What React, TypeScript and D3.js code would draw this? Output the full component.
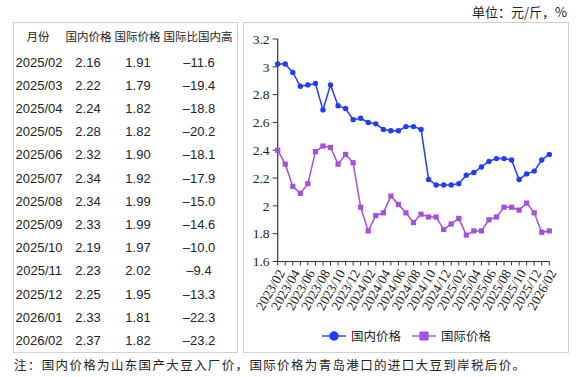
import React from "react";
import * as d3 from "d3";

const months = [
  "2023/02","2023/03","2023/04","2023/05","2023/06","2023/07","2023/08","2023/09","2023/10","2023/11","2023/12",
  "2024/01","2024/02","2024/03","2024/04","2024/05","2024/06","2024/07","2024/08","2024/09","2024/10","2024/11","2024/12",
  "2025/01","2025/02","2025/03","2025/04","2025/05","2025/06","2025/07","2025/08","2025/09","2025/10","2025/11","2025/12",
  "2026/01","2026/02",
];
const domestic = [
  3.02,3.02,2.96,2.86,2.87,2.88,2.69,2.87,2.72,2.70,2.62,
  2.63,2.60,2.59,2.55,2.54,2.54,2.57,2.57,2.55,2.19,2.15,2.15,
  2.15,2.16,2.22,2.24,2.28,2.32,2.34,2.34,2.33,2.19,2.23,2.25,
  2.33,2.37,
];
const international = [
  2.40,2.30,2.14,2.09,2.16,2.39,2.43,2.42,2.30,2.37,2.31,
  1.99,1.82,1.93,1.95,2.07,2.01,1.95,1.88,1.94,1.92,1.92,1.83,
  1.87,1.91,1.79,1.82,1.82,1.90,1.92,1.99,1.99,1.97,2.02,1.95,
  1.81,1.82,
];
const yTicks = [1.6,1.8,2,2.2,2.4,2.6,2.8,3,3.2];

const tableHeader = ["月份","国内价格","国际价格","国际比国内高"];
const tableMonths = ["2025/02","2025/03","2025/04","2025/05","2025/06","2025/07","2025/08","2025/09","2025/10","2025/11","2025/12","2026/01","2026/02"];
const tableDomestic = ["2.16","2.22","2.24","2.28","2.32","2.34","2.34","2.33","2.19","2.23","2.25","2.33","2.37"];
const tableIntl = ["1.91","1.79","1.82","1.82","1.90","1.92","1.99","1.99","1.97","2.02","1.95","1.81","1.82"];
const tableDiff = ["–11.6","–19.4","–18.8","–20.2","–18.1","–17.9","–15.0","–14.6","–10.0","–9.4","–13.3","–22.3","–23.2"];

const seriesNames = ["国内价格","国际价格"];
const unitText = "单位：元/斤，%";
const noteText = "注：国内价格为山东国产大豆入厂价，国际价格为青岛港口的进口大豆到岸税后价。";

const BLUE = "#1f3cff";
const PURPLE = "#a44fe0";
const SERIF = "Liberation Serif, DejaVu Serif, serif";
const SANS = "Liberation Sans, Arial, Noto Sans CJK SC, sans-serif";
const CJK = "Noto Sans CJK SC, sans-serif";

export default function App() {
  const W = 583, H = 377;
  const x = d3.scaleLinear().domain([0, months.length - 1]).range([277.7, 549.3]);
  const y = d3.scaleLinear().domain([1.6, 3.2]).range([261.5, 39]);
  const line = d3.line<number>().x((_, i) => x(i)).y((d) => y(d));
  const fmt = (v: number) => String(+v.toFixed(1));

  const rowY0 = 62;
  const rowStep = 23.2;
  const colX = [15, 88, 138, 199];

  return (
    <svg width={W} height={H} style={{ position: "absolute", left: 0, top: 0, background: "#fff" }}>
      <text x={567} y={17} textAnchor="end" style={{ fontFamily: CJK }} fontSize={13} fill="#222">{unitText}</text>

      {/* table */}
      <rect x={13.5} y={22.5} width={224} height={330} fill="none" stroke="#cfcfcf" strokeWidth={1} />
      <g style={{ fontFamily: CJK }} fontSize={11.5} fill="#222">
        <text x={38} y={41} textAnchor="middle">{tableHeader[0]}</text>
        <text x={88.5} y={41} textAnchor="middle">{tableHeader[1]}</text>
        <text x={137.5} y={41} textAnchor="middle">{tableHeader[2]}</text>
        <text x={198} y={41} textAnchor="middle">{tableHeader[3]}</text>
      </g>
      <g style={{ fontFamily: SANS }} fontSize={13} fill="#222">
        {tableMonths.map((m, i) => {
          const yy = rowY0 + i * rowStep + 4.6;
          return (
            <g key={m}>
              <text x={colX[0] + 24} y={yy} textAnchor="middle">{m}</text>
              <text x={colX[1]} y={yy} textAnchor="middle">{tableDomestic[i]}</text>
              <text x={colX[2]} y={yy} textAnchor="middle">{tableIntl[i]}</text>
              <text x={colX[3]} y={yy} textAnchor="middle">{tableDiff[i]}</text>
            </g>
          );
        })}
      </g>

      {/* chart frame */}
      <rect x={243.5} y={22.5} width={325} height={330} fill="none" stroke="#cfcfcf" strokeWidth={1} />

      {/* y axis */}
      <g>
        <line x1={x(0)} x2={x(0)} y1={y(3.2)} y2={y(1.6)} stroke="#333" strokeWidth={1.2} />
        {yTicks.map((t) => (
          <g key={t}>
            <line x1={x(0) - 5} x2={x(0)} y1={y(t)} y2={y(t)} stroke="#333" strokeWidth={1} />
            <text x={269.5} y={y(t)} dy="0.35em" textAnchor="end" style={{ fontFamily: SERIF }} fontSize={13.5} fill="#222">{fmt(t)}</text>
          </g>
        ))}
      </g>

      {/* x axis */}
      <g>
        <line x1={x(0)} x2={x(months.length - 1)} y1={y(1.6)} y2={y(1.6)} stroke="#333" strokeWidth={1.2} />
        {months.map((m, i) => (
          <line key={m} x1={x(i)} x2={x(i)} y1={y(1.6)} y2={y(1.6) + 4} stroke="#333" strokeWidth={1} />
        ))}
        {months.map((m, i) =>
          i % 2 === 0 ? (
            <text
              key={"l" + m}
              transform={`translate(${x(i) + 3.5},${y(1.6) + 9}) rotate(-60)`}
              textAnchor="end"
              dy="0.35em"
              style={{ fontFamily: SERIF }}
              fontSize={13.5}
              fill="#222"
            >
              {m}
            </text>
          ) : null
        )}
      </g>

      {/* series */}
      <path d={line(domestic) || ""} fill="none" stroke={BLUE} strokeWidth={1.5} />
      {domestic.map((v, i) => (
        <circle key={"d" + i} cx={x(i)} cy={y(v)} r={2.7} fill={BLUE} />
      ))}
      <path d={line(international) || ""} fill="none" stroke={PURPLE} strokeWidth={1.5} />
      {international.map((v, i) => (
        <rect key={"n" + i} x={x(i) - 2.6} y={y(v) - 2.6} width={5.2} height={5.2} fill={PURPLE} />
      ))}

      {/* legend */}
      <g>
        <line x1={322} x2={346} y1={336} y2={336} stroke={BLUE} strokeWidth={1.4} />
        <circle cx={334} cy={336} r={4.7} fill={BLUE} />
        <text x={351} y={336} dy="0.36em" style={{ fontFamily: CJK }} fontSize={12.5} fill="#222">{seriesNames[0]}</text>
        <line x1={412} x2={436} y1={336} y2={336} stroke={PURPLE} strokeWidth={1.4} />
        <rect x={419.5} y={331.5} width={9} height={9} fill={PURPLE} />
        <text x={441} y={336} dy="0.36em" style={{ fontFamily: CJK }} fontSize={12.5} fill="#222">{seriesNames[1]}</text>
      </g>

      {/* note */}
      <text x={14} y={370} style={{ fontFamily: CJK }} fontSize={12.5} fill="#222" textLength={511} lengthAdjust="spacing">{noteText}</text>
    </svg>
  );
}
